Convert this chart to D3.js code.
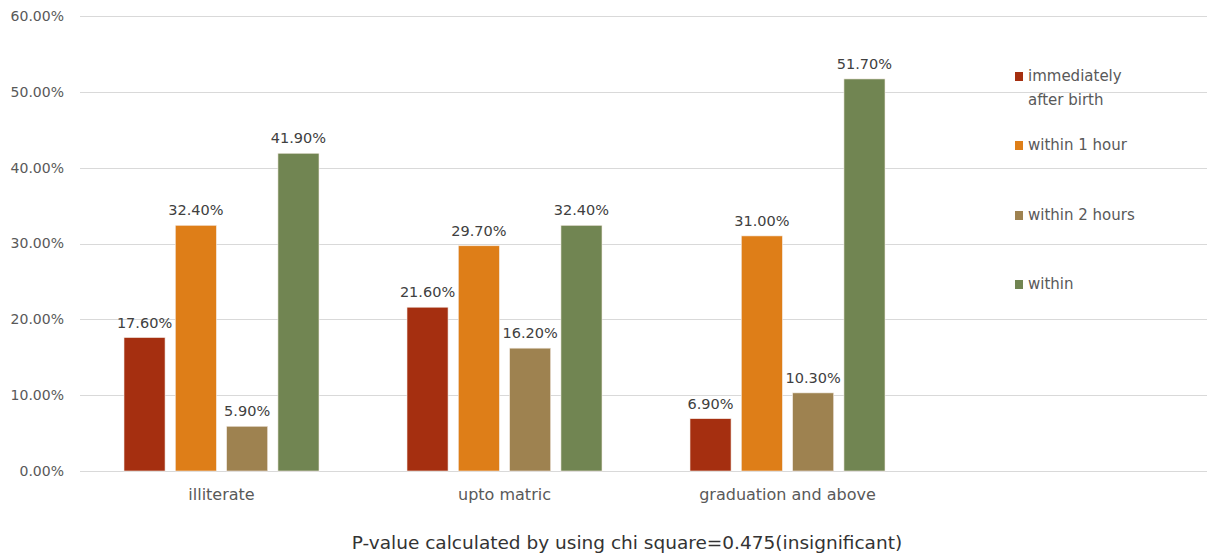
<!DOCTYPE html>
<html>
<head>
<meta charset="utf-8">
<script src="https://cdn.jsdelivr.net/npm/d3@7"></script>
<style>
  body { margin: 0; background: #fff; }
  text { font-family: "DejaVu Sans", sans-serif; }
</style>
</head>
<body>
<script>
// categories and series
const categories = ["illiterate", "upto matric", "graduation and above"];
const seriesNames = ["immediately after birth", "within 1 hour", "within 2 hours", "within"];
const immediately = [17.6, 21.6, 6.9];
const within1Hour = [32.4, 29.7, 31.0];
const within2Hours = [5.9, 16.2, 10.3];
const within = [41.9, 32.4, 51.7];
const yTicks = [0, 10, 20, 30, 40, 50, 60];
const colors = ["#a52f10", "#de7e18", "#9e8250", "#718552"];
const footnote = "P-value calculated by using chi square=0.475(insignificant)";

const allSeries = [immediately, within1Hour, within2Hours, within];

const W = 1207, H = 557;
const svg = d3.select("body").append("svg")
    .attr("width", W)
    .attr("height", H);

const y = d3.scaleLinear().domain([0, 60]).range([471, 16]);

// group bands, plot area continues under the legend
const x0 = d3.scaleBand().domain(categories).range([80, 929]).padding(0);
const x1 = d3.scaleBand().domain(d3.range(4)).range([0, 195]).paddingInner(0.2);
const groupOffset = (x0.bandwidth() - 195) / 2;

// gridlines
svg.append("g")
    .selectAll("line")
    .data(yTicks)
    .enter().append("line")
    .attr("x1", 80)
    .attr("x2", W)
    .attr("y1", d => Math.round(y(d)) + 0.5)
    .attr("y2", d => Math.round(y(d)) + 0.5)
    .attr("stroke", "#d9d9d9")
    .attr("stroke-width", 1);

// y tick labels
svg.append("g")
    .selectAll("text")
    .data(yTicks)
    .enter().append("text")
    .attr("x", 64)
    .attr("y", d => y(d))
    .attr("dy", "0.35em")
    .attr("text-anchor", "end")
    .attr("font-size", 14)
    .attr("fill", "#595959")
    .text(d => d.toFixed(2) + "%");

// bars
const groups = svg.append("g")
    .selectAll("g")
    .data(categories)
    .enter().append("g")
    .attr("transform", c => `translate(${x0(c) + groupOffset},0)`);

const cells = groups.selectAll("g")
    .data((c, ci) => allSeries.map((s, si) => ({ si: si, v: s[ci] })))
    .enter().append("g");

cells.append("rect")
    .attr("x", d => x1(d.si))
    .attr("y", d => y(d.v))
    .attr("width", x1.bandwidth())
    .attr("height", d => y(0) - y(d.v))
    .attr("fill", d => colors[d.si])
    .attr("stroke", "#f3ece4")
    .attr("stroke-width", 0.6);

cells.append("text")
    .attr("x", d => x1(d.si) + x1.bandwidth() / 2)
    .attr("y", d => y(d.v) - 10)
    .attr("text-anchor", "middle")
    .attr("font-size", 14.5)
    .attr("fill", "#404040")
    .text(d => d.v.toFixed(2) + "%");

// category labels
svg.append("g")
    .selectAll("text")
    .data(categories)
    .enter().append("text")
    .attr("x", c => x0(c) + x0.bandwidth() / 2)
    .attr("y", 500)
    .attr("text-anchor", "middle")
    .attr("font-size", 16)
    .attr("fill", "#595959")
    .text(c => c);

// legend
const legendY = [76, 145, 215, 284];
const legend = svg.append("g")
    .selectAll("g")
    .data(seriesNames)
    .enter().append("g")
    .attr("transform", (d, i) => `translate(1015,${legendY[i]})`);

legend.append("rect")
    .attr("x", 0)
    .attr("y", -4)
    .attr("width", 8)
    .attr("height", 9)
    .attr("fill", (d, i) => colors[i]);

legend.append("text")
    .attr("x", 13)
    .attr("y", 0)
    .attr("dy", "0.35em")
    .attr("font-size", 15)
    .attr("fill", "#595959")
    .each(function (d) {
        const t = d3.select(this);
        if (d === "immediately after birth") {
            t.append("tspan").attr("x", 13).text("immediately");
            t.append("tspan").attr("x", 13).attr("dy", 24).text("after birth");
        } else {
            t.text(d);
        }
    });

// footnote
svg.append("text")
    .attr("x", 627)
    .attr("y", 549)
    .attr("text-anchor", "middle")
    .attr("font-size", 18.5)
    .attr("fill", "#333333")
    .text(footnote);
</script>
</body>
</html>
